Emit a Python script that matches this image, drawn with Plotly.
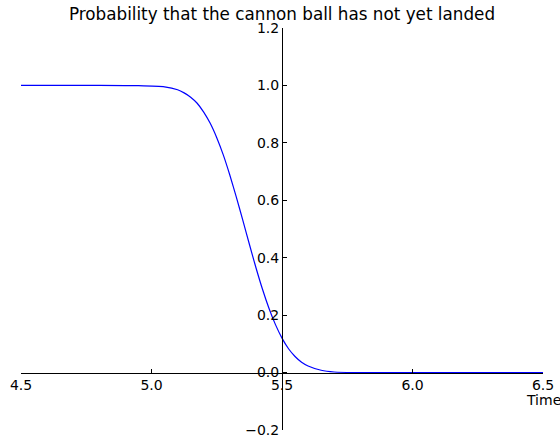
import plotly.graph_objects as go

# Values
time = [4.5, 4.8, 4.95, 5.05, 5.1, 5.125, 5.15, 5.175, 5.2, 5.225, 5.25,
        5.275, 5.3, 5.325, 5.35, 5.375, 5.4, 5.425, 5.45, 5.475, 5.5, 5.525,
        5.55, 5.575, 5.6, 5.65, 5.7, 5.8, 6.5]
prob_not_landed = [1.0, 1.0, 0.999, 0.995, 0.985, 0.974, 0.959, 0.938, 0.907,
                   0.868, 0.818, 0.758, 0.688, 0.611, 0.530, 0.447, 0.366,
                   0.291, 0.224, 0.167, 0.120, 0.083, 0.056, 0.036, 0.023,
                   0.008, 0.002, 0.0, 0.0]

x_ticks = [4.5, 5.0, 5.5, 6.0, 6.5]
x_tick_labels = ["4.5", "5.0", "5.5", "6.0", "6.5"]
y_ticks = [-0.2, 0.0, 0.2, 0.4, 0.6, 0.8, 1.0, 1.2]
y_tick_labels = ["\u22120.2", "0.0", "0.2", "0.4", "0.6", "0.8", "1.0", "1.2"]

fig = go.Figure()
fig.add_trace(go.Scatter(
    x=time, y=prob_not_landed, mode="lines",
    line=dict(color="#0000ff", width=1.2, shape="spline", smoothing=0.6),
    hoverinfo="skip", showlegend=False,
))

font_family = "DejaVu Sans"
fig.update_layout(
    width=560, height=440,
    margin=dict(l=21, r=17, t=28, b=10, autoexpand=False),
    paper_bgcolor="white", plot_bgcolor="white",
    font=dict(family=font_family, color="black", size=14),
    title=dict(text="Probability that the cannon ball has not yet landed",
               x=0.5, xref="paper", y=1 - 14 / 440, yref="container",
               xanchor="center", yanchor="middle",
               font=dict(size=16.8, family=font_family, color="black")),
    xaxis=dict(range=[4.5, 6.5], tickvals=x_ticks, ticktext=x_tick_labels,
               ticks="inside", ticklen=4, tickcolor="black",
               showline=True, linecolor="black", linewidth=1,
               showgrid=False, zeroline=False, automargin=False,
               anchor="free", position=0.2 / 1.4),
    yaxis=dict(range=[-0.2, 1.2], tickvals=y_ticks, ticktext=y_tick_labels,
               ticks="inside", ticklen=4, tickcolor="black",
               showline=True, linecolor="black", linewidth=1,
               showgrid=False, zeroline=False, automargin=False,
               anchor="free", position=0.5),
    annotations=[dict(text="Time", x=6.5, xref="x", y=-0.094, yref="y",
                      xanchor="center", yanchor="middle", showarrow=False,
                      font=dict(size=14, family=font_family, color="black"))],
)

# remove the page's default body margin so the 560x440 figure fills the window
fig.write_html(
    "out.html",
    config={"displayModeBar": False},
    post_script="document.body.style.margin='0';document.body.style.overflow='hidden';",
)
